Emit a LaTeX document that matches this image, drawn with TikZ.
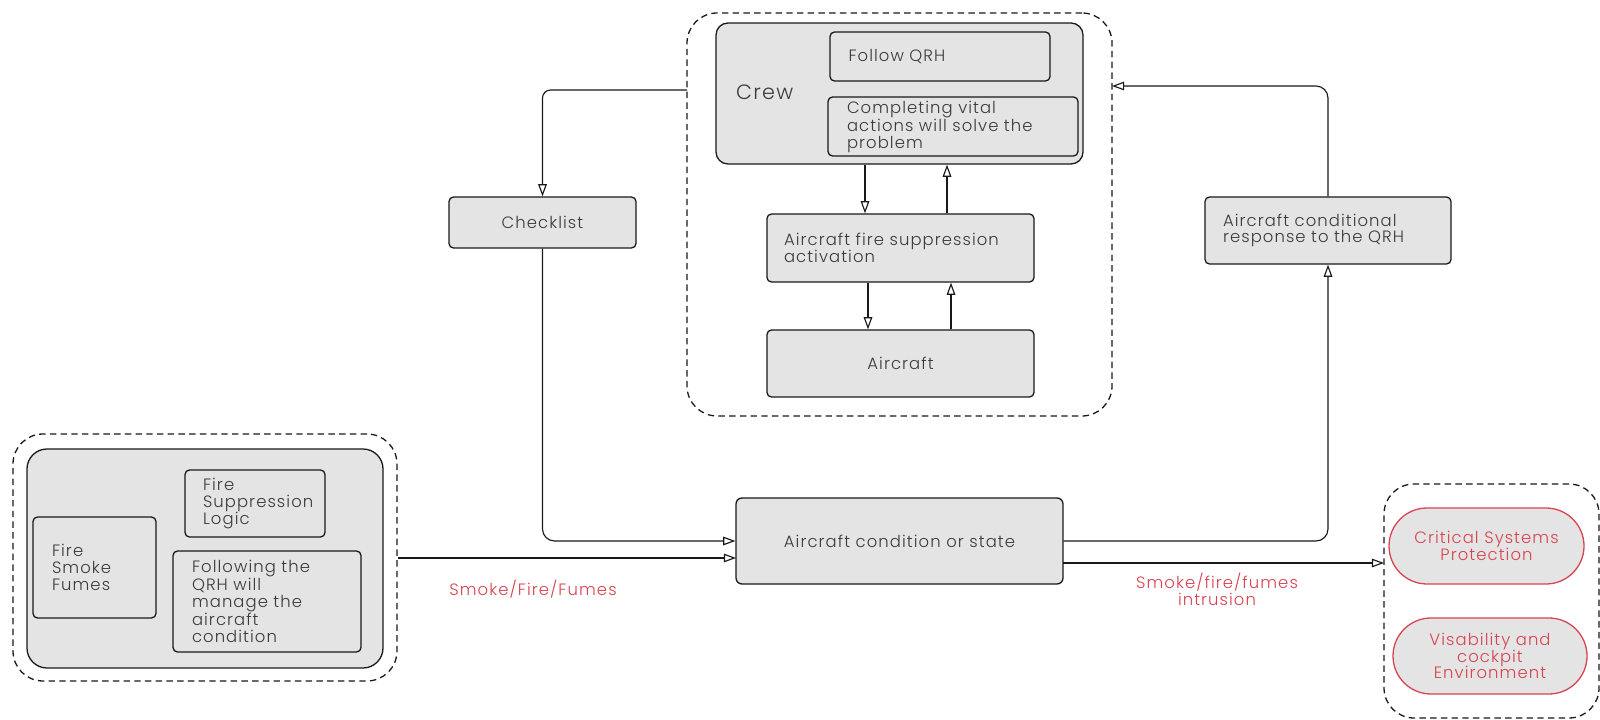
\documentclass[tikz,border=0pt]{standalone}
\usepackage{fontspec}
\setmainfont{Poppins Light}[LetterSpace=6.5]
\usetikzlibrary{arrows.meta,shapes.misc}

\newlength\pxu
\setlength\pxu{0.7pt}

\definecolor{boxgray}{HTML}{E4E4E4}
\definecolor{txtgray}{HTML}{3A3A3A}
\definecolor{hazred}{HTML}{D8434F}

\tikzset{
	box/.style={draw=black!90, fill=boxgray, line width=0.9pt, rounded corners=4.5\pxu,
		text=txtgray, font=\fontsize{11.5}{11.7}\selectfont, inner sep=0pt},
	txtbox/.style={box, align=left, text width=#1},
	grpbox/.style={draw=black!90, dash pattern=on 4.5pt off 3pt, line width=0.9pt, rounded corners=30\pxu, inner sep=0pt},
	pill/.style={draw=hazred, fill=boxgray, line width=0.9pt, rounded rectangle, inner sep=0pt,
		text=hazred, align=center, font=\fontsize{11.5}{11.7}\selectfont},
	flow/.style={draw=black!90, line width=0.8pt, -{Triangle[open, length=8.5pt, width=6pt]}},
	redlbl/.style={text=hazred, align=center, font=\fontsize{11.5}{11.7}\selectfont},
}

\begin{document}
\begin{tikzpicture}[x=0.7pt, y=-0.7pt]
			\useasboundingbox (0,0) rectangle (1600,720);
			
			% crew group
			\node[grpbox, minimum width=425\pxu, minimum height=403\pxu] (crewgrp) at (899.5,214.5) {};
			\node[box, rounded corners=12\pxu, minimum width=367\pxu, minimum height=141\pxu] (crew) at (899.5,93.5) {};
			\node[anchor=west, text=txtgray, font=\fontsize{14.5}{16}\selectfont] (crewlbl) at (731,92) {Crew};
			\node[txtbox=183\pxu, minimum width=220\pxu, minimum height=49\pxu] (qrh) at (940,56.5) {Follow QRH};
			\node[txtbox=212\pxu, minimum width=250\pxu, minimum height=59\pxu] (vital) at (953,126.5) {Completing vital\\actions will solve the\\problem};
			\node[txtbox=233\pxu, minimum width=267\pxu, minimum height=68\pxu] (suppact) at (900.5,248) {Aircraft fire suppression\\activation};
			\node[box, minimum width=267\pxu, minimum height=67\pxu] (aircraft) at (900.5,363.5) {Aircraft};
			
			% side boxes
			\node[box, minimum width=187\pxu, minimum height=51\pxu] (checklist) at (542.5,222.5) {Checklist};
			\node[txtbox=210\pxu, minimum width=246\pxu, minimum height=67\pxu] (response) at (1328,230.5) {Aircraft conditional\\response to the QRH};
			\node[box, rounded corners=6\pxu, minimum width=327\pxu, minimum height=86\pxu] (condition) at (899.5,541) {Aircraft condition or state};
			
			% fire group
			\node[grpbox, minimum width=384\pxu, minimum height=247\pxu] (firegrp) at (205,557.5) {};
			\node[box, rounded corners=20\pxu, minimum width=356\pxu, minimum height=219\pxu] (fire) at (205,558.5) {};
			\node[txtbox=85\pxu, minimum width=123\pxu, minimum height=101\pxu] (smoke) at (94.5,567.5) {Fire\\Smoke\\Fumes};
			\node[txtbox=104\pxu, minimum width=140\pxu, minimum height=67\pxu] (logic) at (255,503.5) {Fire\\Suppression\\Logic};
			\node[txtbox=150\pxu, minimum width=188\pxu, minimum height=101\pxu] (following) at (267,601.5) {Following the\\QRH will\\manage the\\aircraft\\condition};
			
			% hazard group
			\node[grpbox, minimum width=215\pxu, minimum height=234\pxu] (hazgrp) at (1491.5,601) {};
			\node[pill, minimum width=195\pxu, minimum height=76\pxu] (protect) at (1486.5,546) {Critical Systems\\Protection};
			\node[pill, minimum width=194\pxu, minimum height=76\pxu] (visib) at (1490,656) {Visability and\\cockpit\\Environment};
			
			\coordinate (crewout) at (687,90);
			\coordinate (crewin) at (1112,86);
			\coordinate (condin) at (736,558);
			\coordinate (condout) at (1063,563);
			\coordinate (hazin) at (1384,563);
			
			% connectors
			\draw[flow, rounded corners=8\pxu] (crewout) -| (checklist.north);
			\draw[flow, rounded corners=12\pxu] (checklist.south) |- (condition.west);
			\draw[flow] (firegrp.east |- condin) -- (condin);
			\draw[flow, rounded corners=12\pxu] (condition.east) -| (response.south);
			\draw[flow, rounded corners=12\pxu] (response.north) |- (crewin);
			\draw[flow] (condout) -- (hazin);
			\draw[flow] (crew.south -| 865,0) -- (suppact.north -| 865,0);
			\draw[flow] (suppact.north -| 947,0) -- (crew.south -| 947,0);
			\draw[flow] (suppact.south -| 868,0) -- (aircraft.north -| 868,0);
			\draw[flow] (aircraft.north -| 951,0) -- (suppact.south -| 951,0);
			
			\node[redlbl] (fumeslbl) at (533,589) {Smoke/Fire/Fumes};
			\node[redlbl] (intrlbl) at (1217,589) {Smoke/fire/fumes\\intrusion};
		\end{tikzpicture}
\end{document}
